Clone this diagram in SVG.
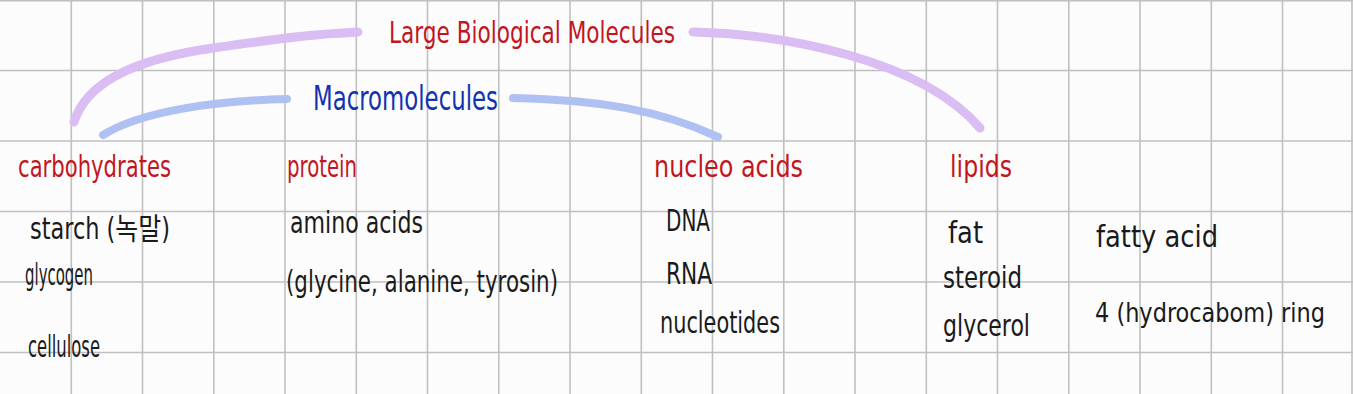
<svg xmlns="http://www.w3.org/2000/svg" width="1353" height="394" viewBox="0 0 1353 394">
<style>
.g{stroke:#c0c0c0;stroke-width:1.6}
text{font-family:"Liberation Sans Narrow","DejaVu Sans Condensed","Liberation Sans","Noto Sans CJK KR",sans-serif}
.h{fill:#c2161e;font-size:31px}
.b{fill:#1432b0;font-size:34px}
.t{fill:#1a1a1a;font-size:30px}
.cp{fill:none;stroke:#d9bdf3;stroke-width:9;stroke-linecap:round}
.cb{fill:none;stroke:#afc1f3;stroke-width:8;stroke-linecap:round}
</style>
<rect width="1353" height="394" fill="#fcfcfd"/>
<g id="grid">
<path class="g" d="M71.3,0V394M142.5,0V394M213.8,0V394M285,0V394M356.3,0V394M427.5,0V394M498.8,0V394M570,0V394M641.3,0V394M712.5,0V394M783.8,0V394M855,0V394M926.3,0V394M997.5,0V394M1068.8,0V394M1140,0V394M1211.3,0V394M1282.5,0V394M1352,0V394"/>
<path class="g" d="M0,0.8H1353M0,70.5H1353M0,141H1353M0,211.5H1353M0,282H1353M0,352.5H1353"/>
</g>
<g id="connectors">
<path class="cp" d="M74,122 C86,84 130,60 213,48 S320,34 358,32"/>
<path class="cp" d="M693,32 C780,34 920,58 980,128"/>
<path class="cb" d="M103,135 C140,112 210,101 287,99"/>
<path class="cb" d="M513,98 C600,100 660,110 718,137"/>
</g>
<g id="title"><text class="h" x="389" y="43" textLength="286" lengthAdjust="spacingAndGlyphs">Large Biological Molecules</text></g>
<g id="macro"><text class="b" x="313" y="110" textLength="185" lengthAdjust="spacingAndGlyphs">Macromolecules</text></g>
<g id="carbohydrates">
<text class="h" x="18" y="177" textLength="153" lengthAdjust="spacingAndGlyphs">carbohydrates</text>
<text class="t" x="30" y="239" textLength="140" lengthAdjust="spacingAndGlyphs">starch (녹말)</text>
<text class="t" x="25" y="285" textLength="68" lengthAdjust="spacingAndGlyphs">glycogen</text>
<text class="t" x="28" y="357" textLength="72" lengthAdjust="spacingAndGlyphs">cellulose</text>
</g>
<g id="protein">
<text class="h" x="287" y="177" textLength="70" lengthAdjust="spacingAndGlyphs">protein</text>
<text class="t" x="290" y="233" textLength="133" lengthAdjust="spacingAndGlyphs">amino acids</text>
<text class="t" x="286" y="292" textLength="272" lengthAdjust="spacingAndGlyphs">(glycine, alanine, tyrosin)</text>
</g>
<g id="nucleic">
<text class="h" x="654" y="177" textLength="149" lengthAdjust="spacingAndGlyphs">nucleo  acids</text>
<text class="t" x="666" y="231" textLength="44" lengthAdjust="spacingAndGlyphs">DNA</text>
<text class="t" x="666" y="284" textLength="46" lengthAdjust="spacingAndGlyphs">RNA</text>
<text class="t" x="660" y="333" textLength="120" lengthAdjust="spacingAndGlyphs">nucleotides</text>
</g>
<g id="lipids">
<text class="h" x="950" y="177" textLength="62" lengthAdjust="spacingAndGlyphs">lipids</text>
<text class="t" x="948" y="243" textLength="35" lengthAdjust="spacingAndGlyphs">fat</text>
<text class="t" x="943" y="288" textLength="79" lengthAdjust="spacingAndGlyphs">steroid</text>
<text class="t" x="943" y="336" textLength="87" lengthAdjust="spacingAndGlyphs">glycerol</text>
<text class="t" x="1096" y="247" textLength="122" lengthAdjust="spacingAndGlyphs">fatty  acid</text>
<text class="t" x="1095" y="322" style="font-size:26px" textLength="230" lengthAdjust="spacingAndGlyphs">4 (hydrocabom) ring</text>
</g>
</svg>
